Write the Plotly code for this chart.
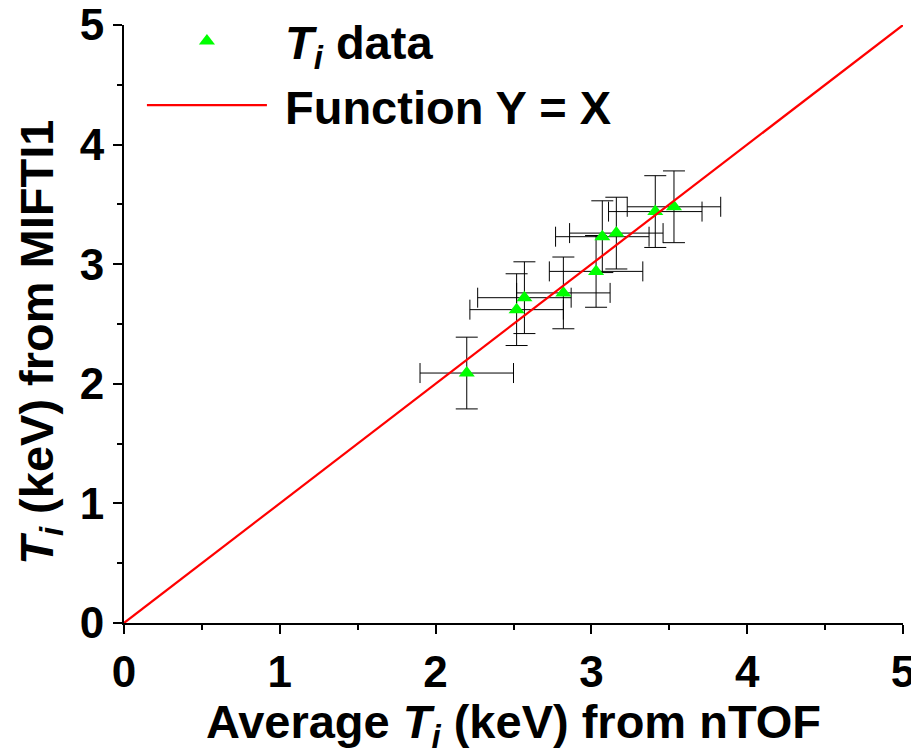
import plotly.graph_objects as go

# Data
nTOF_Ti = [2.20, 2.52, 2.57, 2.82, 3.03, 3.07, 3.16, 3.41, 3.53]
MIFTI_Ti = [2.09, 2.62, 2.72, 2.76, 2.94, 3.23, 3.26, 3.44, 3.48]
nTOF_err = [0.30, 0.30, 0.30, 0.30, 0.30, 0.30, 0.30, 0.30, 0.30]
MIFTI_err = [0.30, 0.30, 0.30, 0.30, 0.30, 0.30, 0.30, 0.30, 0.30]

line_x = [0, 5]
line_y = [0, 5]

tick_vals = [0, 1, 2, 3, 4, 5]
tick_text = ["0", "1", "2", "3", "4", "5"]

FONT = "Liberation Sans, Arial, sans-serif"

fig = go.Figure()
fig.add_trace(go.Scatter(
    x=nTOF_Ti, y=MIFTI_Ti, mode="markers",
    name="&nbsp;<i>T<sub>i</sub></i> data",
    marker=dict(symbol="triangle-up", size=14, color="#00ff00"),
    error_x=dict(type="data", array=nTOF_err, color="black", thickness=1, width=10),
    error_y=dict(type="data", array=MIFTI_err, color="black", thickness=1, width=11),
))
fig.add_trace(go.Scatter(
    x=line_x, y=line_y, mode="lines", name="&nbsp;Function Y = X",
    line=dict(color="#ff0000", width=2.2),
))

axis_common = dict(
    range=[0, 5], tickvals=tick_vals, ticktext=tick_text,
    showgrid=False, zeroline=False, showline=True, linecolor="black", linewidth=1.8,
    ticks="outside", ticklen=9, tickwidth=1.5, tickcolor="black",
    minor=dict(ticks="outside", ticklen=5, tickwidth=1.5, tickcolor="black", dtick=0.5, showgrid=False),
    tickfont=dict(family=FONT, size=44, color="black", weight="bold"),
    ticklabeloverflow="allow",
)

fig.update_xaxes(**axis_common,
                 title=dict(text="Average <i>T<sub>i</sub></i> (keV) from nTOF",
                            font=dict(family=FONT, size=47, color="black", weight="bold"),
                            standoff=12))
fig.update_yaxes(**axis_common)

fig.add_annotation(
    text="<i>T<sub>i</sub></i> (keV) from MIFTI1",
    xref="paper", yref="paper", x=-0.108, y=0.47,
    xanchor="center", yanchor="middle", textangle=-90, showarrow=False,
    font=dict(family=FONT, size=47, color="black", weight="bold"),
)

fig.update_layout(
    width=911, height=747,
    margin=dict(l=116, r=16, t=17, b=132, autoexpand=False),
    plot_bgcolor="white", paper_bgcolor="white",
    showlegend=True,
    legend=dict(x=0.023, y=1.035, xanchor="left", yanchor="top",
                bgcolor="rgba(0,0,0,0)", itemwidth=120,
                font=dict(family=FONT, size=47, color="black", weight="bold"),
                tracegroupgap=0),
)

fig.write_html("out.html")
